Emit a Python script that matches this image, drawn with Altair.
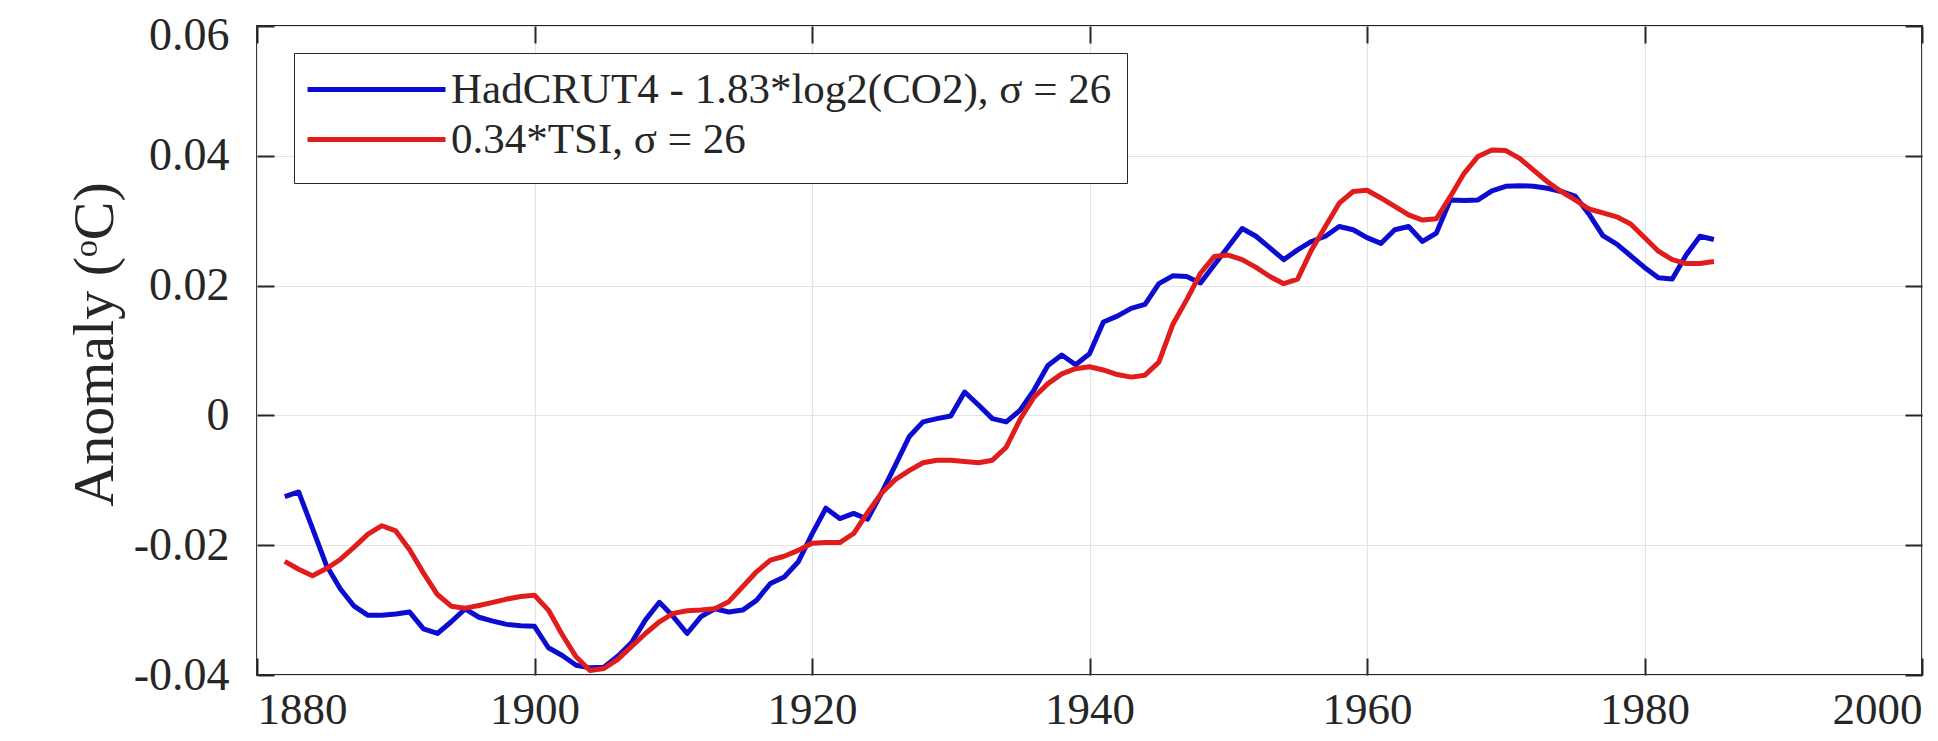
import altair as alt
import pandas as pd

years = list(range(1882, 1986))

hadcrut = [
    -0.0125, -0.0118, -0.0174, -0.0231, -0.0267, -0.0294, -0.0308, -0.0308, -0.0306, -0.0303,  # 1882-1891
    -0.0329, -0.0336, -0.0318, -0.0298, -0.0311, -0.0317, -0.0322, -0.0324, -0.0325, -0.0358,  # 1892-1901
    -0.0370, -0.0385, -0.0389, -0.0388, -0.0371, -0.0350, -0.0315, -0.0288, -0.0310, -0.0336,  # 1902-1911
    -0.0310, -0.0298, -0.0303, -0.0300, -0.0285, -0.0259, -0.0249, -0.0226, -0.0183, -0.0143,  # 1912-1921
    -0.0159, -0.0151, -0.0160, -0.0120, -0.0077, -0.0033, -0.0010, -0.0005, -0.0001, 0.0036,   # 1922-1931
    0.0016, -0.0005, -0.0010, 0.0008, 0.0039, 0.0077, 0.0093, 0.0078, 0.0095, 0.0144,          # 1932-1941
    0.0153, 0.0165, 0.0171, 0.0203, 0.0215, 0.0214, 0.0204, 0.0232, 0.0260, 0.0288,            # 1942-1951
    0.0276, 0.0258, 0.0240, 0.0255, 0.0268, 0.0276, 0.0291, 0.0286, 0.0274, 0.0265,            # 1952-1961
    0.0286, 0.0291, 0.0268, 0.0281, 0.0332, 0.0331, 0.0332, 0.0346, 0.0353, 0.0354,            # 1962-1971
    0.0353, 0.0350, 0.0345, 0.0338, 0.0310, 0.0277, 0.0264, 0.0246, 0.0228, 0.0212,            # 1972-1981
    0.0210, 0.0247, 0.0276, 0.0271,                                                            # 1982-1985
]

tsi = [
    -0.0225, -0.0237, -0.0247, -0.0236, -0.0222, -0.0203, -0.0183, -0.0170, -0.0178, -0.0207,  # 1882-1891
    -0.0243, -0.0276, -0.0294, -0.0297, -0.0293, -0.0288, -0.0283, -0.0279, -0.0277, -0.0300,  # 1892-1901
    -0.0338, -0.0372, -0.0393, -0.0390, -0.0376, -0.0356, -0.0336, -0.0318, -0.0305, -0.0301,  # 1902-1911
    -0.0300, -0.0298, -0.0287, -0.0264, -0.0241, -0.0223, -0.0217, -0.0208, -0.0197, -0.0196,  # 1912-1921
    -0.0196, -0.0182, -0.0150, -0.0120, -0.0099, -0.0085, -0.0073, -0.0069, -0.0069, -0.0071,  # 1922-1931
    -0.0073, -0.0069, -0.0049, -0.0006, 0.0028, 0.0049, 0.0064, 0.0072, 0.0075, 0.0070,        # 1932-1941
    0.0063, 0.0059, 0.0062, 0.0082, 0.0140, 0.0178, 0.0219, 0.0245, 0.0247, 0.0240,            # 1942-1951
    0.0228, 0.0214, 0.0203, 0.0210, 0.0255, 0.0291, 0.0327, 0.0345, 0.0347, 0.0335,            # 1952-1961
    0.0322, 0.0309, 0.0301, 0.0303, 0.0337, 0.0373, 0.0399, 0.0409, 0.0408, 0.0396,            # 1962-1971
    0.0378, 0.0360, 0.0345, 0.0332, 0.0318, 0.0312, 0.0306, 0.0295, 0.0274, 0.0253,            # 1972-1981
    0.0240, 0.0234, 0.0234, 0.0237,                                                            # 1982-1985
]

series_names = ["HadCRUT4 - 1.83*log2(CO2), \u03c3 = 26", "0.34*TSI, \u03c3 = 26"]
series_colors = ["#0c0cd0", "#e01c1c"]
x_ticks = [1880, 1900, 1920, 1940, 1960, 1980, 2000]
y_ticks = [-0.04, -0.02, 0, 0.02, 0.04, 0.06]
y_title = "Anomaly (\u1d52C)"

df = pd.concat([
    pd.DataFrame({"year": years, "value": hadcrut, "series": series_names[0]}),
    pd.DataFrame({"year": years, "value": tsi, "series": series_names[1]}),
])

FONT = "Liberation Serif"
INK = "#262626"

xscale = alt.Scale(domain=[1880, 2000], nice=False, zero=False)
yscale = alt.Scale(domain=[-0.04, 0.06], nice=False, zero=False)

y_label_expr = "datum.value == 0 ? '0' : (datum.value < 0 ? '-' : '') + format(abs(datum.value), '.2f')"

base = alt.Chart(df)

lines = base.mark_line(strokeWidth=5, strokeJoin="round").encode(
    x=alt.X("year:Q", scale=xscale,
            axis=alt.Axis(values=x_ticks, format="d", grid=True, ticks=False, domain=False,
                          labelPadding=12, labelFontSize=45, title=None)),
    y=alt.Y("value:Q", scale=yscale,
            axis=alt.Axis(values=y_ticks, labelExpr=y_label_expr, grid=True, ticks=False,
                          domain=False, labelPadding=28, labelFontSize=46,
                          labelOffset={"condition": {"test": "datum.value > 0.059", "value": 9},
                                       "value": 0},
                          title=y_title,
                          titleX=-162, titleY=318, titleAngle=270, titleAlign="center",
                          titleBaseline="middle")),
    color=alt.Color("series:N",
                    scale=alt.Scale(domain=series_names, range=series_colors),
                    legend=alt.Legend(title=" ", titleOrient="bottom", titleFontSize=6,
                                      titlePadding=0,
                                      orient="none", legendX=37, legendY=27,
                                      symbolType="M-2.3,0H11.5", symbolSize=400,
                                      symbolStrokeWidth=5, labelFontSize=43,
                                      labelFont=FONT, labelColor=INK, labelLimit=2000,
                                      labelOffset=99, rowPadding=6, padding=15,
                                      fillColor="white", strokeColor=INK)),
)

tick_axis = dict(labels=False, domain=False, grid=False, tickSize=17, offset=-17,
                 tickColor=INK, tickWidth=2, title=None)

ticks_tr = base.mark_point(opacity=0).encode(
    x=alt.X("year:Q", scale=xscale, axis=alt.Axis(orient="top", values=x_ticks, **tick_axis)),
    y=alt.Y("value:Q", scale=yscale, axis=alt.Axis(orient="right", values=y_ticks, **tick_axis)),
)
ticks_bl = base.mark_point(opacity=0).encode(
    x=alt.X("year:Q", scale=xscale, axis=alt.Axis(orient="bottom", values=x_ticks, **tick_axis)),
    y=alt.Y("value:Q", scale=yscale, axis=alt.Axis(orient="left", values=y_ticks, **tick_axis)),
)

chart = alt.layer(lines, ticks_tr, ticks_bl).resolve_scale(
    x="independent", y="independent"
).resolve_axis(
    x="independent", y="independent"
).properties(
    width=1665, height=649,
    autosize=alt.AutoSizeParams(type="none"),
    padding={"left": 249, "top": 18, "right": 8, "bottom": 57},
    background="white",
).configure_view(
    stroke=INK, strokeWidth=2
).configure_axis(
    labelFont=FONT, labelFontSize=46, labelColor=INK,
    titleFont=FONT, titleFontSize=58, titleFontWeight="normal", titleColor=INK,
    gridColor="#e3e3e3", gridWidth=1.2,
)

chart.save("out.html", embed_options={"renderer": "svg", "actions": False})
